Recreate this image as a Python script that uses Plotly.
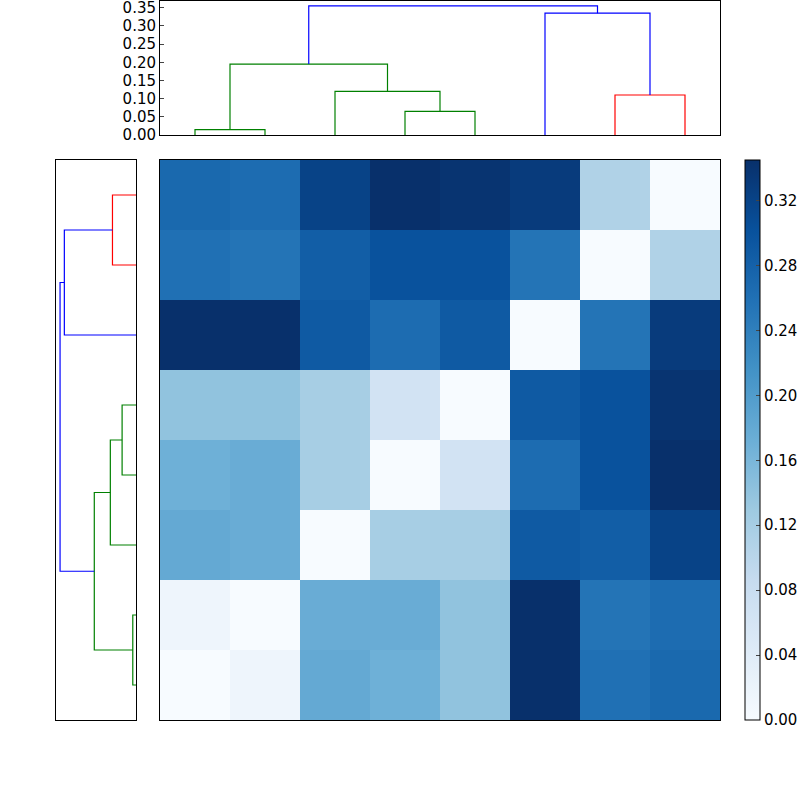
import plotly.graph_objects as go

# distance matrix in leaf order (leaf 0 .. leaf 7)
dist = [
    [0.000, 0.015, 0.180, 0.170, 0.140, 0.345, 0.260, 0.270],
    [0.015, 0.000, 0.175, 0.175, 0.140, 0.345, 0.255, 0.265],
    [0.180, 0.175, 0.000, 0.120, 0.120, 0.290, 0.285, 0.320],
    [0.170, 0.175, 0.120, 0.000, 0.065, 0.265, 0.300, 0.345],
    [0.140, 0.140, 0.120, 0.065, 0.000, 0.290, 0.300, 0.340],
    [0.345, 0.345, 0.290, 0.265, 0.290, 0.000, 0.255, 0.330],
    [0.260, 0.255, 0.285, 0.300, 0.300, 0.255, 0.000, 0.110],
    [0.270, 0.265, 0.320, 0.345, 0.340, 0.330, 0.110, 0.000],
]
# linkage: (child a, child b, height, colour); new clusters numbered 8..14
link_a = [0, 3, 6, 2, 8, 5, 12]
link_b = [1, 4, 7, 9, 11, 10, 13]
link_h = [0.015, 0.065, 0.11, 0.12, 0.195, 0.335, 0.355]
link_c = ["green", "green", "red", "green", "green", "blue", "blue"]
cbar_ticks = [0.00, 0.04, 0.08, 0.12, 0.16, 0.20, 0.24, 0.28, 0.32]

n = len(dist)
pos = {i: float(i) for i in range(n)}
hgt = {i: 0.0 for i in range(n)}
segs = []
for k, (a, b, h, c) in enumerate(zip(link_a, link_b, link_h, link_c)):
    segs.append(([pos[a], pos[a], pos[b], pos[b]], [hgt[a], h, h, hgt[b]], c))
    pos[n + k] = (pos[a] + pos[b]) / 2
    hgt[n + k] = h

fig = go.Figure()
for xs, ys, c in segs:
    fig.add_trace(go.Scatter(x=xs, y=ys, mode="lines", line=dict(color=c, width=1.2),
                             xaxis="x2", yaxis="y2", showlegend=False, hoverinfo="skip", cliponaxis=False))
    fig.add_trace(go.Scatter(x=ys, y=xs, mode="lines", line=dict(color=c, width=1.2),
                             xaxis="x3", yaxis="y3", showlegend=False, hoverinfo="skip"))

fig.add_trace(go.Heatmap(z=dist, x=list(range(n)), y=list(range(n)), colorscale="Blues",
                         zmin=0, zmax=0.345, xaxis="x", yaxis="y",
                         colorbar=dict(x=0.93125, xanchor="left", y=0.1, yanchor="bottom", len=0.7,
                                       lenmode="fraction", thickness=15, outlinewidth=1,
                                       outlinecolor="black", tickvals=cbar_ticks,
                                       tickformat=".2f", ticks="inside", ticklen=4, xpad=0, ypad=0,
                                       tickfont=dict(size=15))))

box = dict(showline=True, mirror=True, linecolor="black", linewidth=1, showgrid=False,
           zeroline=False, automargin=False)
fig.update_layout(
    width=800, height=800, margin=dict(l=0, r=0, t=0, b=0, pad=0, autoexpand=False),
    plot_bgcolor="white", paper_bgcolor="white",
    font=dict(family="DejaVu Sans", size=15, color="black"),
    xaxis=dict(domain=[0.2, 0.9], range=[-0.5, 7.5], showticklabels=False, ticks="", anchor="y", **box),
    yaxis=dict(domain=[0.1, 0.8], range=[-0.5, 7.5], showticklabels=False, ticks="", anchor="x", **box),
    xaxis2=dict(domain=[0.2, 0.9], range=[-0.5, 7.5], showticklabels=False, ticks="", anchor="y2", **box),
    yaxis2=dict(domain=[0.83125, 0.999], range=[0, 0.369], tickvals=[0, 0.05, 0.1, 0.15, 0.2, 0.25, 0.3, 0.35],
                tickformat=".2f", ticks="inside", ticklen=4, anchor="x2", ticklabeloverflow="allow", **box),
    xaxis3=dict(domain=[0.07, 0.17], range=[0.374, 0], showticklabels=False, ticks="", anchor="y3", **box),
    yaxis3=dict(domain=[0.1, 0.8], range=[-0.5, 7.5], showticklabels=False, ticks="", anchor="x3", **box),
)
fig.write_html("out.html", config={"displayModeBar": False})
with open("out.html", encoding="utf-8") as f:
    html = f.read()
html = html.replace("<head>", "<head><style>html,body{margin:0;padding:0;overflow:hidden}</style>", 1)
with open("out.html", "w", encoding="utf-8") as f:
    f.write(html)
